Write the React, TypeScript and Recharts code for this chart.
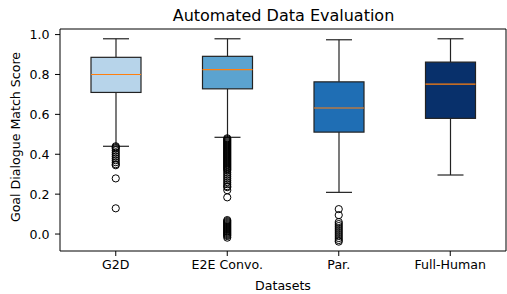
import React from 'react';
import { ComposedChart, Bar, Scatter, XAxis, YAxis, ReferenceArea } from 'recharts';

const categories = ['G2D', 'E2E Convo.', 'Par.', 'Full-Human'];
const whiskerLow = [0.44, 0.485, 0.209, 0.296];
const q1 = [0.71, 0.728, 0.511, 0.58];
const medians = [0.80, 0.824, 0.632, 0.752];
const q3 = [0.886, 0.891, 0.763, 0.862];
const whiskerHigh = [0.979, 0.979, 0.974, 0.979];
const boxColors = ['#b7d4ea', '#5ba3d0', '#1f6eb4', '#08306b'];
const yTicks = [0, 0.2, 0.4, 0.6, 0.8, 1.0];

const outliersG2D = [0.44, 0.435, 0.43, 0.42, 0.41, 0.40, 0.39, 0.38, 0.37, 0.36, 0.35, 0.345, 0.279, 0.129];
const outliersE2E = [
  0.48, 0.475, 0.47, 0.465, 0.46, 0.455, 0.45, 0.445, 0.44, 0.435, 0.43, 0.425, 0.42, 0.415, 0.41,
  0.405, 0.40, 0.395, 0.39, 0.385, 0.38, 0.375, 0.37, 0.365, 0.36, 0.355, 0.35, 0.345, 0.34, 0.335,
  0.33, 0.325, 0.32, 0.31, 0.30, 0.29, 0.28, 0.27, 0.26, 0.25, 0.24, 0.235, 0.22, 0.184,
  0.07, 0.065, 0.06, 0.055, 0.05, 0.045, 0.04, 0.035, 0.03, 0.025, 0.02, 0.015, 0.01, 0.005, 0.0, -0.005, -0.01, -0.018,
];
const outliersPar = [0.125, 0.095, 0.06, 0.05, 0.04, 0.03, 0.02, 0.01, 0.0, -0.01, -0.02, -0.03, -0.038];
const outliersFull: number[] = [];

const boxData = categories.map((name, i) => ({
  name,
  range: [whiskerLow[i], whiskerHigh[i]],
  lo: whiskerLow[i],
  q1: q1[i],
  med: medians[i],
  q3: q3[i],
  hi: whiskerHigh[i],
  color: boxColors[i],
}));

const outlierData = [
  ...outliersG2D.map((v) => ({ name: categories[0], v })),
  ...outliersE2E.map((v) => ({ name: categories[1], v })),
  ...outliersPar.map((v) => ({ name: categories[2], v })),
  ...outliersFull.map((v) => ({ name: categories[3], v })),
];

const FONT = 'DejaVu Sans, sans-serif';
const FS = 12.6;

const BoxShape = (props: any) => {
  const { x, y, width, height, payload } = props;
  const { lo, hi, q1: b1, med, q3: b3, color } = payload;
  const py = (v: number) => y + ((hi - v) / (hi - lo)) * height;
  const cx = x + width / 2;
  const capHalf = 13;
  return (
    <g>
      <line x1={cx} x2={cx} y1={py(hi)} y2={py(b3)} stroke="#222" strokeWidth={1.2} />
      <line x1={cx} x2={cx} y1={py(b1)} y2={py(lo)} stroke="#222" strokeWidth={1.2} />
      <line x1={cx - capHalf} x2={cx + capHalf} y1={py(hi)} y2={py(hi)} stroke="#222" strokeWidth={1.2} />
      <line x1={cx - capHalf} x2={cx + capHalf} y1={py(lo)} y2={py(lo)} stroke="#222" strokeWidth={1.2} />
      <rect x={x} y={py(b3)} width={width} height={py(b1) - py(b3)} fill={color} stroke="#222" strokeWidth={1.2} />
      <line x1={x} x2={x + width} y1={py(med)} y2={py(med)} stroke="#ff7f0e" strokeWidth={1.2} />
    </g>
  );
};

const OutlierShape = (props: any) => {
  const { cx, cy } = props;
  return <circle cx={cx} cy={cy} r={3.6} fill="none" stroke="#000" strokeWidth={1} />;
};

export default function App() {
  return (
    <div style={{ position: 'absolute', left: 0, top: 0, width: 507, height: 294, background: '#fff' }}>
      <ComposedChart
        width={507}
        height={294}
        data={boxData}
        margin={{ top: 29, right: 1, bottom: 22, left: 10 }}
      >
        <text x={283.5} y={20.5} textAnchor="middle" fontFamily={FONT} fontSize={16} fill="#000">
          Automated Data Evaluation
        </text>
        <text x={283} y={290} textAnchor="middle" fontFamily={FONT} fontSize={FS} fill="#000">
          Datasets
        </text>
        <text
          x={20}
          y={137}
          textAnchor="middle"
          fontFamily={FONT}
          fontSize={FS}
          fill="#000"
          transform="rotate(-90 20 137)"
        >
          Goal Dialogue Match Score
        </text>
        <XAxis
          dataKey="name"
          type="category"
          allowDuplicatedCategory={false}
          height={21}
          axisLine={false}
          tickLine={{ stroke: '#000' }}
          tickSize={5}
          tickMargin={4}
          tick={{ fontFamily: FONT, fontSize: FS, fill: '#000' }}
        />
        <YAxis
          type="number"
          domain={[-0.085, 1.028]}
          allowDataOverflow
          ticks={yTicks}
          tickFormatter={(v: number) => v.toFixed(1)}
          width={50}
          axisLine={false}
          tickLine={{ stroke: '#000' }}
          tickSize={5}
          tickMargin={5.5}
          tick={{ fontFamily: FONT, fontSize: FS, fill: '#000' }}
        />
        <ReferenceArea y1={-0.085} y2={1.028} fill="none" stroke="#000" strokeWidth={1} ifOverflow="visible" />
        <Bar dataKey="range" barSize={50} shape={<BoxShape />} isAnimationActive={false} />
        <Scatter data={outlierData} dataKey="v" shape={<OutlierShape />} isAnimationActive={false} />
      </ComposedChart>
    </div>
  );
}
